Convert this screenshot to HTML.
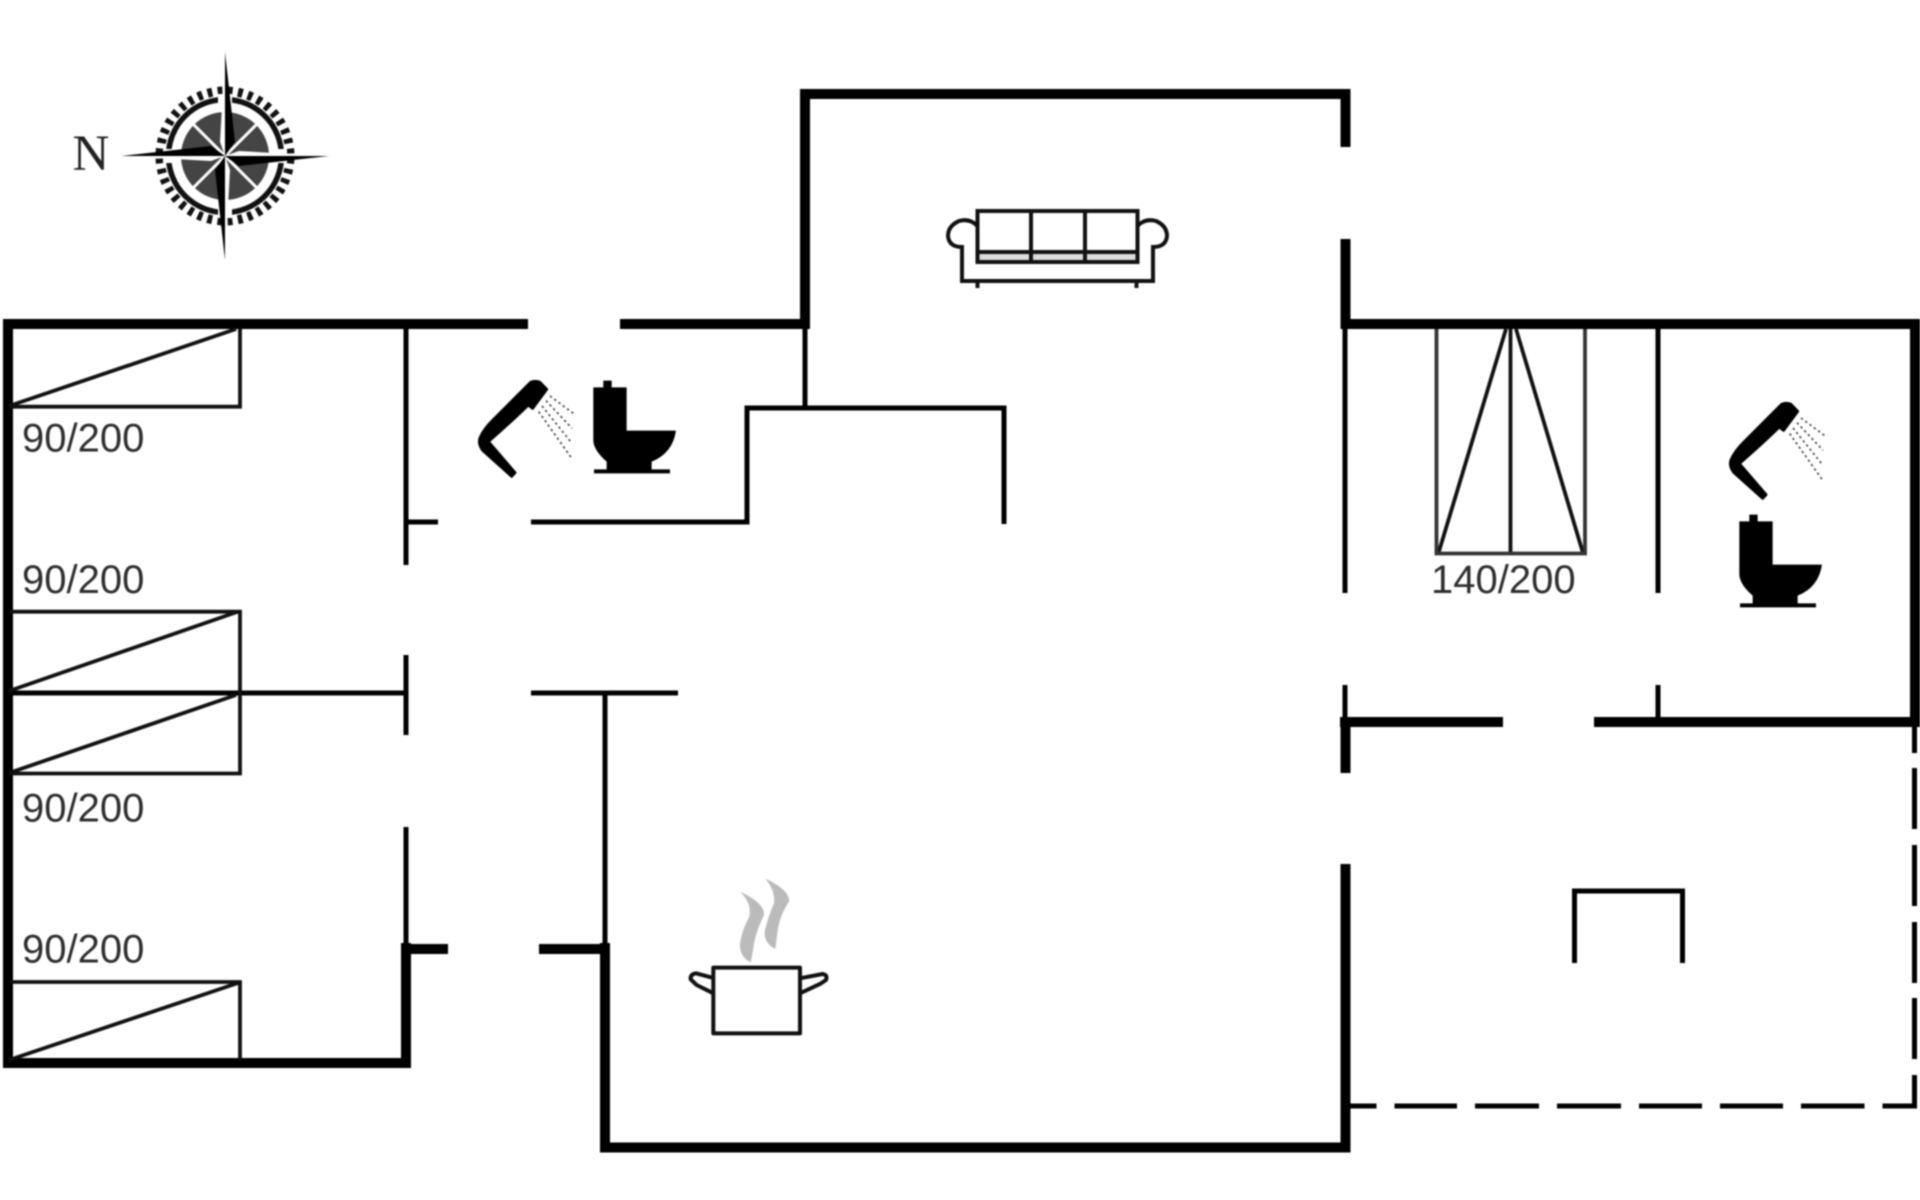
<!DOCTYPE html>
<html><head><meta charset="utf-8"><title>Floor plan</title>
<style>html,body{margin:0;padding:0;background:#fff}svg{display:block;filter:blur(.8px)}</style></head>
<body>
<svg xmlns="http://www.w3.org/2000/svg" width="1920" height="1200" viewBox="0 0 1920 1200">
<rect width="1920" height="1200" fill="#fff"/>
<defs>
<g id="shower">
<path d="M242,66 Q255,60 270,66 L291,88 L248,146 L235,136 Q190,180 116,245 L196,338 L185,350 L98,272 Q82,250 90,232 Q102,205 130,178 Z" fill="#000" stroke="#000" stroke-width="7" stroke-linejoin="round"/>
<g stroke="#444" stroke-width="5" stroke-dasharray="7 9" fill="none">
<path d="M300,108 L370,160"/><path d="M288,122 L366,205"/><path d="M276,138 L366,250"/><path d="M266,155 L366,296"/>
</g>
</g>
<path id="toilet" d="M430,82 H460 V62 H485 V82 H530 V212 H678 Q668,280 605,305 V328 H660 V340 H432 V328 H470 V305 Q430,270 430,240 Z" fill="#000"/>
<g id="arm"><polygon points="0,-104 10,-14 0,0" fill="#000"/><polygon points="0,-104 -5,-14 0,0" fill="#fff"/></g>
</defs>

<!-- thick walls -->
<g fill="none" stroke="#000" stroke-width="10" stroke-linecap="butt" stroke-linejoin="miter">
<path d="M528,324 H8 V1063 H406 V943"/>
<path d="M620,324 H805 V94 H1345.5 V147"/>
<path d="M1345.5,239 V324 H1915 V727"/>
<path d="M1503,722 H1340"/>
<path d="M1345.5,717 V773"/>
<path d="M1594,722 H1915"/>
<path d="M1345.5,864 V1147.5 H605 V943"/>
<path d="M401,949 H448"/>
<path d="M539,949 H610"/>
</g>

<!-- thin walls -->
<g fill="none" stroke="#000" stroke-width="5">
<path d="M406,329 V565"/><path d="M406,522 H438"/>
<path d="M406,655 V735"/><path d="M8,693 H406"/>
<path d="M406,827 V945"/>
<path d="M531,522 H747 V408 H1004 V524"/>
<path d="M805,324 V408"/>
<path d="M531,693 H678"/><path d="M605,693 V945"/>
<path d="M1345,324 V593"/><path d="M1345,685 V722"/>
<path d="M1658,324 V593"/><path d="M1658,685 V722"/>
<path d="M1574.5,963 V891 H1682.5 V963"/>
</g>

<!-- dashed terrace -->
<g fill="none" stroke="#000" stroke-width="5">
<path d="M1914.5,727 V753 M1914.5,768 V829 M1914.5,845 V906 M1914.5,922 V983 M1914.5,998 V1059 M1914.5,1075 V1108"/>
<path d="M1345,1106 H1376.5 M1394.5,1106 H1457 M1475,1106 H1539 M1557,1106 H1621 M1639,1106 H1702 M1720,1106 H1783 M1801,1106 H1864.5 M1882.5,1106 H1917"/>
</g>

<!-- beds -->
<g fill="none" stroke="#111" stroke-width="3.8">
<path d="M240,329 V406.7 H10"/><path d="M9,406 L236,329"/>
<path d="M10,611.7 H240 V773.5 H10"/><path d="M9,691 L237,612"/><path d="M9,773 L236,695"/>
<path d="M10,982 H240 V1060"/><path d="M9,1060 L238,983"/>
<path d="M1510.5,329 V553"/>
<path d="M1438.5,553 L1506,329"/><path d="M1516,329 L1583,553"/>
<path d="M1436.5,329 V553.5 H1585 V329" stroke="#333"/>
</g>

<!-- labels -->
<g font-family="'Liberation Sans',sans-serif" font-size="40" fill="#2e2e2e">
<text x="22" y="451.5">90/200</text>
<text x="22" y="593">90/200</text>
<text x="22" y="821.5">90/200</text>
<text x="22" y="962.5">90/200</text>
<text x="1431" y="593">140/200</text>
</g>
<text x="72.5" y="170" font-family="'Liberation Serif',serif" font-size="51" fill="#222">N</text>

<!-- compass -->
<g transform="translate(225,156)">
<circle r="65" fill="none" stroke="#111" stroke-width="9" stroke-dasharray="4.8 5.41" stroke-dashoffset="-2.7"/>
<circle r="56.5" fill="#fff" stroke="#111" stroke-width="5.5"/>
<g fill="#fff">
<rect x="-7" y="-62" width="14" height="124"/>
<rect x="-62" y="-7" width="124" height="14"/>
</g>
<circle r="44" fill="#444"/>
<g stroke="#fff" stroke-width="3">
<path d="M-35,-35 L35,35"/><path d="M-35,35 L35,-35"/>
</g>
<use href="#arm"/>
<use href="#arm" transform="rotate(90)"/>
<use href="#arm" transform="rotate(180)"/>
<use href="#arm" transform="rotate(270)"/>
</g>

<!-- sofa -->
<g fill="none" stroke="#111" stroke-width="4">
<rect x="977.5" y="211" width="160" height="51"/>
<rect x="977.5" y="252" width="160" height="10" fill="#ddd"/>
<path d="M1031,211 V262 M1085,211 V262"/>
<path d="M977.5,226 Q970,218 959,221 Q948,226 948,236 Q949,247 962,247 V281 H1153 V247 Q1166,247 1167,236 Q1167,226 1156,221 Q1145,218 1137.5,226"/>
<path d="M977.5,281 V288 M1136.5,281 V288"/>
</g>

<!-- shower & toilet 1 -->
<g transform="translate(450,360) scale(.3333)"><use href="#shower"/><use href="#toilet"/></g>
<!-- shower 2 -->
<g transform="translate(1701,382) scale(.3333)"><use href="#shower"/></g>
<!-- toilet 2 -->
<g transform="translate(1596,494) scale(.3333)"><use href="#toilet"/></g>

<!-- pot -->
<g transform="translate(660,860) scale(.3333)">
<path d="M240,95 Q315,130 312,165 Q290,210 282,250 Q276,290 272,307 Q238,290 240,250 Q246,210 268,170 Q276,130 240,95Z" fill="#bbb"/>
<path d="M315,55 Q390,90 387,125 Q357,170 352,220 L346,267 Q312,250 314,215 Q324,170 342,130 Q346,90 315,55Z" fill="#bbb"/>
<g fill="none" stroke="#111" stroke-width="12" stroke-linejoin="round">
<rect x="160" y="323" width="260" height="197" fill="#fff"/>
<path d="M160,354 L108,340 Q90,343 92,358 L110,375 L160,400"/>
<path d="M420,355 L488,342 Q504,345 498,360 L480,372 L420,400"/>
</g>
</g>
</svg>
</body></html>
